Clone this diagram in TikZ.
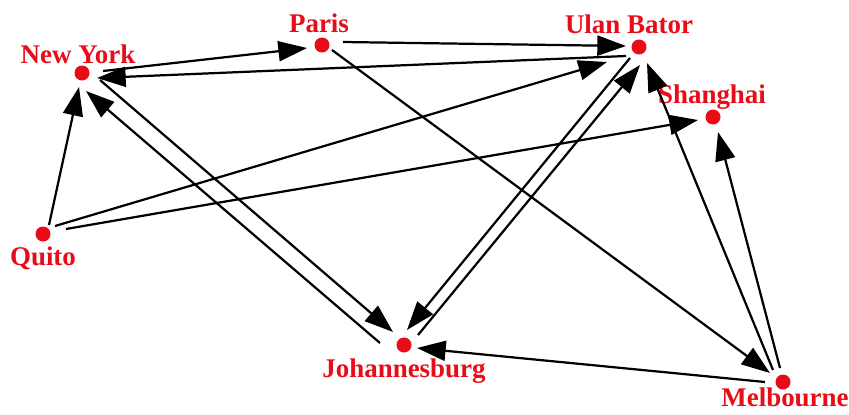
\documentclass[tikz,border=0pt]{standalone}
\usepackage{fontspec}
\setmainfont{Liberation Serif}
\usetikzlibrary{arrows.meta,calc}
\definecolor{cityred}{RGB}{232,12,24}
\tikzset{
  city/.style={circle, fill=cityred, inner sep=0pt, minimum size=0.45cm},
  cityname/.style={anchor=base, text=cityred, inner sep=0pt,
    font=\fontsize{23}{27}\selectfont\bfseries},
  link/.style={line width=1.9pt, -{Triangle[length=0.86cm,width=0.6cm]}}
}
\begin{document}
\begin{tikzpicture}[x=0.03cm, y=-0.03cm]
  \useasboundingbox (0,0) rectangle (849,414);
  % Cities
  \node[city] (ny) at (82,73) {};
  \node[city] (paris) at (322,45) {};
  \node[city] (ub) at (639,47) {};
  \node[city] (sh) at (713,117) {};
  \node[city] (qu) at (43,234) {};
  \node[city] (jo) at (404,345) {};
  \node[city] (mel) at (783,382) {};

  % Names
  \node[cityname] (nyname) at (78,63) {New York};
  \node[cityname] (parisname) at (319,32) {Paris};
  \node[cityname] (ubname) at (629,33) {Ulan Bator};
  \node[cityname] (shname) at (712,103) {Shanghai};
  \node[cityname] (quname) at (43,265) {Quito};
  \node[cityname] (joname) at (404,377) {Johannesburg};
  \node[cityname] (melname) at (785,406) {Melbourne};

  % Flights out of New York and Paris
  \draw[link] ($(ny)+(21,-2)$) -- ($(paris)+(-15,3)$);
  \draw[link] ($(paris)+(21,-3)$) -- ($(ub)+(-13,-1)$);
  \draw[link] ($(paris)+(10,5)$) -- ($(mel)+(-13,-9)$);
  \draw[link] ($(ny)+(18,7)$) -- ($(jo)+(-11,-13)$);

  % Flights out of Ulan Bator
  \draw[link] ($(ub)+(-13,9)$) -- ($(ny)+(15,5)$);
  \draw[link] ($(ub)+(-9,11)$) -- ($(jo)+(3,-15)$);

  % Flights out of Quito
  \draw[link] ($(qu)+(6,-9)$) -- ($(ny)+(-3,14)$);
  \draw[link] ($(qu)+(12,-8)$) -- ($(ub)+(-32,15)$);
  \draw[link] ($(qu)+(23,-5)$) -- ($(sh)+(-15,3)$);

  % Flights out of Johannesburg
  \draw[link] ($(jo)+(-24,-2)$) -- ($(ny)+(4,18)$);
  \draw[link] ($(jo)+(14,-10)$) -- ($(ub)+(1,18)$);

  % Flights out of Melbourne
  \draw[link] ($(mel)+(-18,0)$) -- ($(jo)+(13,3)$);
  \draw[link] ($(mel)+(-10,-12)$) -- ($(ub)+(8,16)$);
  \draw[link] ($(mel)+(-3,-14)$) -- ($(sh)+(5,15)$);
\end{tikzpicture}
\end{document}
